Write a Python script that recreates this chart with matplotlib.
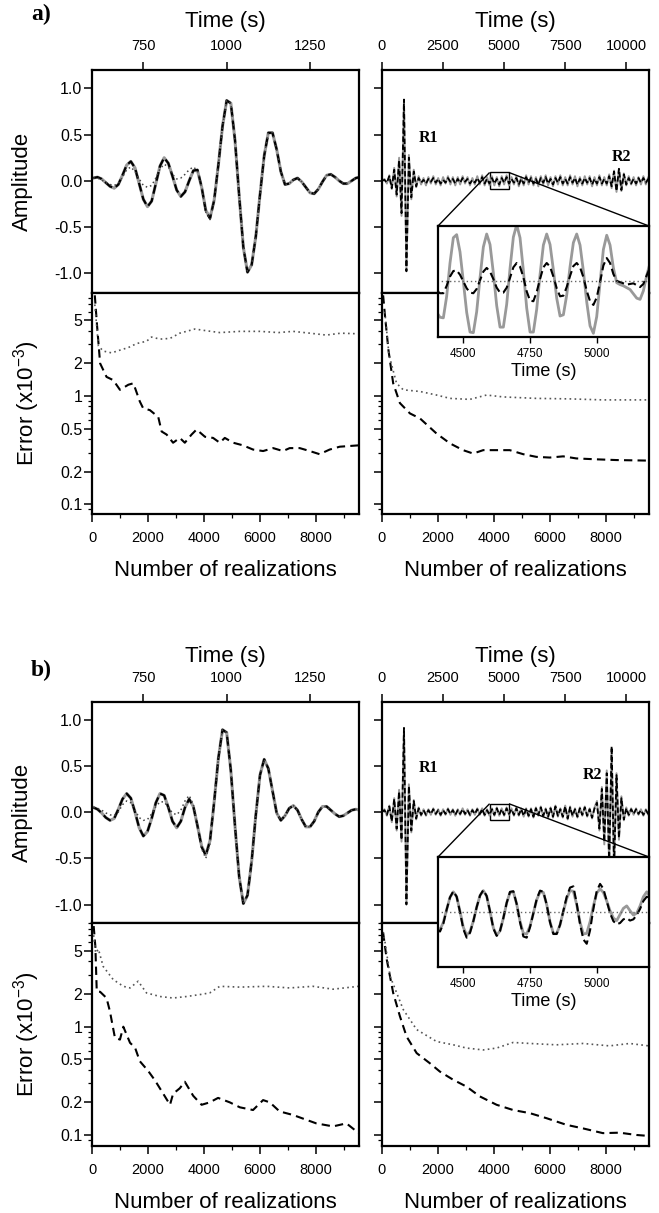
import matplotlib
matplotlib.use("Agg")
import matplotlib.pyplot as plt
import numpy as np
from matplotlib.ticker import FixedLocator, NullFormatter, FormatStrFormatter
from mpl_toolkits.axes_grid1.inset_locator import mark_inset

plt.rcParams['font.family'] = ['Liberation Sans', 'DejaVu Sans']
plt.rcParams['axes.unicode_minus'] = False

# ---------------- data ----------------
# close-up of R1 (left panels), sampled every 12.5 s from 600 to 1400 s
t_r1 = np.arange(600, 1400.1, 12.5)

ref_a = [0.03, 0.04, 0.02, -0.02, -0.06, -0.08, -0.04, 0.06, 0.17, 0.21,
         0.14, -0.03, -0.20, -0.28, -0.22, -0.03, 0.16, 0.25, 0.19, 0.05,
         -0.10, -0.17, -0.12, 0.00, 0.11, 0.11, -0.07, -0.32, -0.40, -0.21,
         0.17, 0.59, 0.87, 0.84, 0.44, -0.16, -0.72, -0.99, -0.91, -0.60,
         -0.15, 0.27, 0.52, 0.52, 0.34, 0.10, -0.04, -0.03, 0.01, 0.03,
         -0.01, -0.07, -0.13, -0.14, -0.09, -0.01, 0.06, 0.07, 0.04, 0.00,
         -0.03, -0.03, 0.00, 0.03, 0.04]
dash_a = [0.03, 0.04, 0.02, -0.02, -0.06, -0.08, -0.04, 0.06, 0.17, 0.21,
          0.14, -0.03, -0.20, -0.28, -0.22, -0.03, 0.16, 0.25, 0.19, 0.05,
          -0.10, -0.17, -0.12, 0.00, 0.11, 0.12, -0.07, -0.33, -0.41, -0.21,
          0.17, 0.59, 0.87, 0.84, 0.44, -0.16, -0.72, -0.99, -0.91, -0.60,
          -0.15, 0.27, 0.52, 0.52, 0.34, 0.10, -0.04, -0.03, 0.01, 0.03,
          -0.01, -0.07, -0.13, -0.14, -0.09, -0.01, 0.06, 0.07, 0.04, 0.00,
          -0.03, -0.03, 0.00, 0.03, 0.04]
dot_a = [0.03, 0.03, 0.01, -0.02, -0.04, -0.05, -0.03, 0.04, 0.12, 0.15,
         0.10, 0.02, -0.05, -0.07, -0.05, 0.03, 0.13, 0.18, 0.15, 0.07,
         0.02, 0.03, 0.07, 0.12, 0.15, 0.11, -0.08, -0.34, -0.42, -0.22,
         0.17, 0.59, 0.87, 0.84, 0.44, -0.16, -0.72, -0.99, -0.91, -0.60,
         -0.15, 0.27, 0.52, 0.52, 0.34, 0.10, -0.04, -0.03, 0.01, 0.03,
         -0.01, -0.07, -0.13, -0.14, -0.09, -0.01, 0.06, 0.07, 0.04, 0.00,
         -0.03, -0.03, 0.00, 0.03, 0.04]

ref_b = [0.05, 0.03, -0.01, -0.06, -0.09, -0.07, 0.03, 0.14, 0.20, 0.15,
         0.00, -0.17, -0.26, -0.21, -0.07, 0.10, 0.20, 0.18, 0.05, -0.10,
         -0.17, -0.10, 0.05, 0.14, 0.06, -0.15, -0.37, -0.46, -0.31, 0.11,
         0.58, 0.89, 0.86, 0.45, -0.15, -0.70, -0.99, -0.90, -0.53, -0.03,
         0.40, 0.57, 0.47, 0.23, -0.01, -0.09, -0.04, 0.04, 0.07, 0.02,
         -0.08, -0.16, -0.16, -0.10, 0.00, 0.06, 0.06, 0.02, -0.02, -0.05,
         -0.04, -0.01, 0.02, 0.03, 0.02]
dash_b = [0.05, 0.03, -0.01, -0.06, -0.09, -0.07, 0.03, 0.14, 0.20, 0.15,
          0.00, -0.17, -0.26, -0.21, -0.07, 0.10, 0.20, 0.18, 0.05, -0.10,
          -0.17, -0.10, 0.05, 0.14, 0.06, -0.15, -0.38, -0.47, -0.31, 0.11,
          0.58, 0.89, 0.86, 0.45, -0.15, -0.70, -0.99, -0.90, -0.53, -0.03,
          0.40, 0.57, 0.47, 0.23, -0.01, -0.09, -0.04, 0.04, 0.07, 0.02,
          -0.08, -0.16, -0.16, -0.10, 0.00, 0.06, 0.06, 0.02, -0.02, -0.05,
          -0.04, -0.01, 0.02, 0.03, 0.02]
dot_b = [0.05, 0.04, 0.02, -0.01, -0.03, -0.04, 0.00, 0.08, 0.12, 0.10,
         0.02, -0.06, -0.09, -0.08, -0.02, 0.06, 0.11, 0.11, 0.05, -0.01,
         -0.03, 0.02, 0.12, 0.18, 0.08, -0.15, -0.40, -0.50, -0.34, 0.11,
         0.58, 0.89, 0.86, 0.45, -0.15, -0.70, -0.99, -0.90, -0.53, -0.03,
         0.40, 0.57, 0.47, 0.23, -0.01, -0.09, -0.04, 0.04, 0.07, 0.02,
         -0.08, -0.16, -0.16, -0.10, 0.00, 0.06, 0.06, 0.02, -0.02, -0.05,
         -0.04, -0.01, 0.02, 0.03, 0.02]

# full record (right panels), one value every 100 s from 0 to 11000 s
t_full = np.arange(0, 11001, 100)

full_a_ref = [0.00, 0.02, -0.03, 0.06, -0.09, 0.14, -0.17, 0.25, -0.38, 0.86,
              -0.97, 0.28, -0.20, 0.12, -0.07, 0.05, -0.04, 0.03, -0.05, 0.04,
              -0.03, 0.05, -0.04, 0.03, -0.05, 0.04, -0.03, 0.05, -0.04, 0.04,
              -0.05, 0.04, -0.04, 0.05, -0.03, 0.04, -0.05, 0.03, -0.04, 0.05,
              -0.04, 0.06, -0.05, 0.04, -0.05, 0.05, -0.05, 0.04, -0.06, 0.05,
              -0.04, 0.06, -0.05, 0.04, -0.04, 0.05, -0.06, 0.04, -0.05, 0.06,
              -0.04, 0.05, -0.05, 0.04, -0.06, 0.05, -0.04, 0.06, -0.05, 0.04,
              -0.06, 0.05, -0.04, 0.06, -0.05, 0.04, -0.05, 0.06, -0.04, 0.05,
              -0.06, 0.04, -0.05, 0.05, -0.04, 0.05, -0.06, 0.04, -0.05, 0.06,
              -0.05, 0.04, -0.05, 0.07, -0.08, 0.11, -0.12, 0.13, -0.11, 0.08,
              -0.05, 0.05, -0.04, 0.04, -0.05, 0.04, -0.04, 0.05, -0.04, 0.04, -0.02]
full_a_dash = [0.00, 0.01, -0.02, 0.05, -0.08, 0.12, -0.15, 0.22, -0.35, 0.88,
               -0.98, 0.25, -0.18, 0.10, -0.06, 0.03, -0.02, 0.01, -0.03, 0.02,
               -0.01, 0.03, -0.02, 0.02, -0.03, 0.01, -0.02, 0.03, -0.01, 0.02,
               -0.03, 0.02, -0.02, 0.03, -0.01, 0.02, -0.03, 0.01, -0.02, 0.03,
               -0.02, 0.04, -0.03, 0.02, -0.03, 0.03, -0.03, 0.02, -0.04, 0.03,
               -0.02, 0.04, -0.03, 0.02, -0.02, 0.03, -0.04, 0.02, -0.03, 0.04,
               -0.02, 0.03, -0.03, 0.02, -0.04, 0.03, -0.02, 0.04, -0.03, 0.02,
               -0.04, 0.03, -0.02, 0.04, -0.03, 0.02, -0.03, 0.04, -0.02, 0.03,
               -0.04, 0.02, -0.03, 0.03, -0.02, 0.03, -0.04, 0.02, -0.03, 0.04,
               -0.03, 0.02, -0.03, 0.05, -0.06, 0.10, -0.11, 0.13, -0.10, 0.07,
               -0.04, 0.03, -0.03, 0.02, -0.03, 0.03, -0.02, 0.03, -0.02, 0.02, -0.01]

full_b_ref = [0.00, 0.03, -0.04, 0.07, -0.11, 0.15, -0.20, 0.24, -0.32, 0.90,
              -0.99, 0.30, -0.22, 0.13, -0.08, 0.05, -0.04, 0.03, -0.04, 0.03,
              -0.03, 0.04, -0.03, 0.03, -0.04, 0.03, -0.03, 0.04, -0.03, 0.03,
              -0.04, 0.03, -0.03, 0.04, -0.03, 0.03, -0.04, 0.03, -0.03, 0.04,
              -0.03, 0.04, -0.04, 0.03, -0.04, 0.04, -0.04, 0.05, -0.04, 0.04,
              -0.04, 0.05, -0.03, 0.04, -0.04, 0.05, -0.04, 0.04, -0.05, 0.04,
              -0.05, 0.04, -0.06, 0.05, -0.04, 0.06, -0.05, 0.04, -0.06, 0.05,
              -0.06, 0.07, -0.05, 0.04, -0.06, 0.07, -0.08, 0.06, -0.05, 0.04,
              -0.06, 0.05, -0.04, 0.06, -0.05, 0.04, -0.07, 0.05, 0.12, -0.20,
              0.27, -0.35, 0.45, -0.58, 0.68, -0.62, 0.42, -0.30, 0.17, -0.09,
              0.05, -0.04, 0.04, -0.03, 0.04, -0.03, 0.03, -0.04, 0.03, -0.03, 0.01]
full_b_dash = [0.00, 0.02, -0.03, 0.06, -0.10, 0.14, -0.18, 0.22, -0.30, 0.91,
               -1.00, 0.28, -0.20, 0.12, -0.07, 0.04, -0.03, 0.02, -0.03, 0.02,
               -0.02, 0.03, -0.02, 0.02, -0.03, 0.02, -0.02, 0.03, -0.02, 0.02,
               -0.03, 0.02, -0.02, 0.03, -0.02, 0.02, -0.03, 0.02, -0.02, 0.03,
               -0.02, 0.03, -0.03, 0.02, -0.03, 0.03, -0.03, 0.04, -0.03, 0.03,
               -0.03, 0.04, -0.02, 0.03, -0.03, 0.04, -0.03, 0.03, -0.04, 0.03,
               -0.04, 0.03, -0.05, 0.04, -0.03, 0.05, -0.04, 0.03, -0.05, 0.04,
               -0.05, 0.06, -0.04, 0.03, -0.05, 0.06, -0.07, 0.05, -0.04, 0.03,
               -0.05, 0.04, -0.03, 0.05, -0.04, 0.03, -0.06, 0.04, 0.10, -0.18,
               0.25, -0.32, 0.42, -0.55, 0.71, -0.60, 0.40, -0.28, 0.15, -0.08,
               0.04, -0.03, 0.03, -0.02, 0.03, -0.02, 0.02, -0.03, 0.02, -0.02, 0.01]

# insets, 4400-5200 s every 12.5 s
t_ins = np.arange(4400, 5200.1, 12.5)
ins_a_ref = [-0.050, -0.058, -0.059, -0.024, 0.030, 0.071, 0.076, 0.048, 0.000, -0.050,
             -0.082, -0.083, -0.049, 0.006, 0.056, 0.077, 0.060, 0.014, -0.039, -0.074,
             -0.074, -0.037, 0.021, 0.072, 0.092, 0.071, 0.018, -0.043, -0.082, -0.082,
             -0.045, 0.011, 0.059, 0.077, 0.060, 0.019, -0.027, -0.056, -0.054, -0.022,
             0.024, 0.063, 0.077, 0.059, 0.017, -0.033, -0.072, -0.084, -0.057, -0.002,
             0.052, 0.075, 0.059, 0.022, -0.002, -0.005, -0.007, -0.010, -0.013, -0.020,
             -0.027, -0.029, -0.015, 0.010, 0.030]
ins_a_dash = [-0.015, -0.019, -0.019, -0.007, 0.008, 0.017, 0.018, 0.011, 0.000, -0.011,
              -0.018, -0.019, -0.012, 0.002, 0.016, 0.022, 0.016, 0.004, -0.010, -0.018,
              -0.018, -0.010, 0.006, 0.023, 0.030, 0.024, 0.007, -0.016, -0.031, -0.032,
              -0.017, 0.004, 0.023, 0.030, 0.024, 0.008, -0.011, -0.024, -0.023, -0.009,
              0.009, 0.025, 0.030, 0.023, 0.007, -0.015, -0.032, -0.038, -0.026, -0.001,
              0.026, 0.038, 0.030, 0.012, 0.001, -0.001, -0.003, -0.005, -0.004, -0.003,
              -0.006, -0.009, -0.004, 0.010, 0.023]
ins_b_ref = [-0.025, -0.029, -0.017, 0.004, 0.024, 0.033, 0.025, 0.001, -0.025, -0.038,
             -0.032, -0.015, 0.008, 0.027, 0.035, 0.026, 0.001, -0.026, -0.038, -0.031,
             -0.010, 0.015, 0.032, 0.033, 0.013, -0.015, -0.035, -0.036, -0.023, -0.002,
             0.020, 0.033, 0.032, 0.012, -0.016, -0.035, -0.035, -0.021, 0.001, 0.022,
             0.035, 0.034, 0.012, -0.017, -0.036, -0.035, -0.016, 0.010, 0.031, 0.038,
             0.032, 0.018, 0.002, -0.010, -0.014, -0.004, 0.006, 0.010, 0.002, -0.005,
             -0.002, 0.010, 0.025, 0.033, 0.025]
ins_b_dash = [-0.028, -0.032, -0.019, 0.004, 0.024, 0.034, 0.025, 0.000, -0.028, -0.042,
              -0.034, -0.015, 0.008, 0.027, 0.036, 0.026, 0.001, -0.027, -0.039, -0.031,
              -0.010, 0.015, 0.033, 0.034, 0.013, -0.017, -0.040, -0.042, -0.025, -0.002,
              0.021, 0.035, 0.033, 0.012, -0.017, -0.036, -0.036, -0.021, 0.002, 0.025,
              0.040, 0.042, 0.014, -0.020, -0.045, -0.052, -0.030, 0.005, 0.034, 0.046,
              0.038, 0.018, -0.002, -0.015, -0.020, -0.018, -0.012, -0.010, -0.014, -0.012,
              -0.005, 0.005, 0.018, 0.025, 0.022]
t_ins_dot = [4400, 5200]
ins_a_dot = [0.001, 0.001]
ins_b_dot = [0.000, 0.000]

# misfit vs number of realizations (x1e-3)
ea_l_dash_n = [100, 180, 290, 520, 760, 1000, 1300, 1480, 1710, 1830, 2070, 2370, 2490,
               2670, 2900, 3140, 3320, 3560, 3740, 4040, 4330, 4570, 4750, 5050, 5400,
               5760, 6120, 6480, 6830, 7070, 7430, 7790, 8140, 8500, 8860, 9540]
ea_l_dash = [8.5, 4.5, 2.0, 1.5, 1.4, 1.14, 1.27, 1.31, 0.89, 0.77, 0.74, 0.64, 0.47,
             0.44, 0.37, 0.41, 0.37, 0.44, 0.49, 0.42, 0.41, 0.37, 0.41, 0.37, 0.35,
             0.32, 0.31, 0.33, 0.31, 0.33, 0.33, 0.31, 0.29, 0.32, 0.34, 0.35]
ea_l_dot_n = [100, 230, 400, 700, 1000, 1300, 1600, 1950, 2130, 2430, 2790, 3140,
              3680, 4100, 4570, 5290, 6000, 6670, 7190, 7790, 8380, 8900, 9540]
ea_l_dot = [7.0, 2.9, 2.6, 2.5, 2.65, 2.8, 3.05, 3.2, 3.5, 3.35, 3.4, 3.8,
            4.15, 4.0, 3.85, 3.95, 3.95, 3.85, 3.95, 3.8, 3.65, 3.8, 3.75]
ea_r_dash_n = [40, 110, 230, 400, 640, 1000, 1360, 1950, 2430, 2900, 3260, 3620, 4100,
               4570, 5050, 5520, 6000, 6480, 6950, 7670, 8380, 9540]
ea_r_dash = [8.5, 5.4, 2.66, 1.31, 0.86, 0.69, 0.62, 0.45, 0.365, 0.316, 0.294, 0.316, 0.316,
             0.316, 0.29, 0.274, 0.27, 0.277, 0.265, 0.26, 0.256, 0.253]
ea_r_dot_n = [100, 250, 520, 760, 1360, 1950, 2430, 3140, 3740, 4330, 5520, 6710, 7900, 9540]
ea_r_dot = [6.0, 2.4, 1.31, 1.14, 1.10, 1.02, 0.95, 0.93, 1.02, 0.98, 0.95, 0.94, 0.92, 0.92]

eb_l_dash_n = [60, 120, 170, 290, 520, 640, 820, 1000, 1120, 1360, 1540, 1710, 2010, 2250,
               2550, 2790, 2900, 3140, 3320, 3620, 3920, 4210, 4510, 4930, 5290, 5760,
               6120, 6360, 6710, 7190, 7670, 8020, 8620, 9100, 9540]
eb_l_dash = [8.5, 5.5, 2.12, 2.1, 1.84, 1.39, 0.79, 0.76, 1.0, 0.71, 0.64, 0.48, 0.39, 0.32,
             0.24, 0.19, 0.24, 0.27, 0.31, 0.23, 0.19, 0.20, 0.22, 0.20, 0.18, 0.17,
             0.21, 0.20, 0.165, 0.153, 0.138, 0.128, 0.12, 0.128, 0.104]
eb_l_dot_n = [60, 130, 230, 400, 760, 1120, 1360, 1650, 1950, 2430, 2900, 3380, 3860,
              4210, 4570, 5290, 6240, 7070, 7900, 8620, 9540]
eb_l_dot = [7.0, 4.8, 5.2, 3.6, 2.72, 2.36, 2.28, 2.63, 2.05, 1.9, 1.84, 1.9, 1.98,
            2.05, 2.36, 2.32, 2.36, 2.28, 2.36, 2.22, 2.36]
eb_r_dash_n = [40, 170, 400, 640, 880, 1240, 1710, 2070, 2550, 3020, 3500, 4100, 4690,
               5290, 5880, 6600, 7190, 7900, 8500, 9100, 9540]
eb_r_dash = [7.4, 4.17, 2.05, 1.25, 0.81, 0.57, 0.46, 0.385, 0.323, 0.28, 0.227, 0.19, 0.17,
             0.159, 0.143, 0.124, 0.115, 0.104, 0.105, 0.10, 0.098]
eb_r_dot_n = [40, 110, 290, 760, 1240, 1950, 2550, 3020, 3620, 4100, 4690, 5290, 6240,
              7190, 8140, 8860, 9540]
eb_r_dot = [7.5, 6.0, 2.92, 1.44, 0.94, 0.73, 0.68, 0.635, 0.61, 0.635, 0.715, 0.70, 0.68,
            0.70, 0.665, 0.70, 0.665]

err_ticks = [0.1, 0.2, 0.5, 1, 2, 5]
err_ticklabels = ['0.1', '0.2', '0.5', '1', '2', '5']
err_minor = [0.09, 0.3, 0.4, 0.6, 0.7, 0.8, 0.9, 3, 4, 6, 7, 8, 9]

# ---------------- figure ----------------
W, H = 659, 1213
fig = plt.figure(figsize=(W / 100, H / 100), dpi=100)

GRAY = '#999999'


def px_axes(x0, y0, x1, y1):
    # pixel box measured from the top-left corner of the picture
    return fig.add_axes([x0 / W, 1 - y1 / H, (x1 - x0) / W, (y1 - y0) / H])


def style(ax):
    for s in ax.spines.values():
        s.set_linewidth(1.6)
    ax.tick_params(which='major', direction='out', length=5.5, width=1.1)
    ax.tick_params(which='minor', direction='out', length=2.8, width=0.9)
    ax.tick_params(axis='x', labelsize=10.5, pad=7)
    ax.tick_params(axis='y', labelsize=11.5, pad=1.5)


def draw_amp(ax, left, amp_ylim):
    style(ax)
    ax.set_ylim(*amp_ylim)
    ax.xaxis.tick_top()
    ax.xaxis.set_label_position('top')
    ax.tick_params(bottom=False, right=False)
    ax.set_yticks([-1.0, -0.5, 0.0, 0.5, 1.0])
    ax.yaxis.set_major_formatter(FormatStrFormatter('%.1f'))
    if not left:
        ax.tick_params(axis='y', labelleft=False)
    ax.set_xlabel('Time (s)', fontsize=16)


def draw_err(ax, left, err_ylim):
    style(ax)
    ax.set_yscale('log')
    ax.set_ylim(*err_ylim)
    ax.set_xlim(0, 9550)
    ax.yaxis.set_major_locator(FixedLocator(err_ticks))
    ax.yaxis.set_minor_locator(FixedLocator(err_minor))
    ax.yaxis.set_minor_formatter(NullFormatter())
    if left:
        ax.set_yticklabels(err_ticklabels)
        ax.set_ylabel('Error (x10$^{\\mathregular{-3}}$)', fontsize=16)
    else:
        ax.tick_params(axis='y', which='both', labelleft=False)
    ax.set_xticks([0, 2000, 4000, 6000, 8000])
    ax.set_xticks([1000, 3000, 5000, 7000, 9000], minor=True)
    ax.tick_params(right=False, top=False)
    ax.set_xlabel('Number of realizations', fontsize=16)


def panel(y_top, y_mid, y_bot, ins_y0, ins_y1, amp_ylim, err_ylim,
          r1_ref, r1_dash, r1_dot, full_ref, full_dash, ins_ref, ins_dash, ins_dot,
          e_left, e_right, r_labels, letter, letter_y, top_lab_y, bot_lab_y):
    # left column: close-up of R1
    al = px_axes(92, y_top, 359, y_mid)
    el = px_axes(92, y_mid, 359, y_bot)
    al.plot(t_r1, r1_ref, color=GRAY, lw=2.2)
    al.plot(t_r1, r1_dash, color='black', lw=1.6, dashes=(4, 2))
    al.plot(t_r1, r1_dot, color='#444444', lw=1.1, dashes=(1, 2))
    al.set_xlim(596, 1397)
    al.set_xticks([750, 1000, 1250])
    draw_amp(al, True, amp_ylim)
    al.yaxis.set_label_coords(-0.222, 0.5)
    al.set_ylabel('Amplitude', fontsize=16)
    al.xaxis.set_label_coords(0.5, top_lab_y)

    (dn, dv), (on, ov) = e_left
    el.plot(dn, dv, color='black', lw=1.5, dashes=(4, 2.5))
    el.plot(on, ov, color='#555555', lw=1.2, dashes=(1, 2))
    draw_err(el, True, err_ylim)
    el.yaxis.set_label_coords(-0.187, 0.5)
    el.xaxis.set_label_coords(0.5, bot_lab_y)

    # right column: whole record
    ar = px_axes(382, y_top, 649, y_mid)
    er = px_axes(382, y_mid, 649, y_bot)
    ar.plot(t_full, full_ref, color=GRAY, lw=1.4)
    ar.plot(t_full, full_dash, color='black', lw=1.3, dashes=(3, 1.5))
    ar.set_xlim(0, 10930)
    ar.set_xticks([0, 2500, 5000, 7500, 10000])
    draw_amp(ar, False, amp_ylim)
    ar.xaxis.set_label_coords(0.5, top_lab_y)
    for txt, tx, ty in r_labels:
        ar.text(tx, ty, txt, family=['Liberation Serif', 'DejaVu Serif'],
                fontweight='bold', fontsize=11.5, ha='center', va='center')

    (dn, dv), (on, ov) = e_right
    er.plot(dn, dv, color='black', lw=1.5, dashes=(4, 2.5))
    er.plot(on, ov, color='#555555', lw=1.2, dashes=(1, 2))
    draw_err(er, False, err_ylim)
    er.xaxis.set_label_coords(0.5, bot_lab_y)

    # inset zoom of the coda
    ins = px_axes(438, ins_y0, 649, ins_y1)
    ins.plot(t_ins, ins_ref, color=GRAY, lw=2.0)
    ins.plot(t_ins, ins_dash, color='black', lw=1.5, dashes=(4, 2))
    ins.plot(t_ins_dot, ins_dot, color='#666666', lw=1.0, dashes=(1, 2))
    ins.set_xlim(4405, 5196)
    ins.set_ylim(-0.09, 0.09)
    for s in ins.spines.values():
        s.set_linewidth(1.6)
    ins.set_yticks([])
    ins.set_xticks([4500, 4750, 5000])
    ins.tick_params(axis='x', direction='out', length=4, width=1, labelsize=8.5, pad=4)
    ins.set_xlabel('Time (s)', fontsize=13, labelpad=2)
    mark_inset(ar, ins, loc1=2, loc2=1, fc='none', ec='black', lw=1.0)

    fig.text(31 / W, 1 - letter_y / H, letter, family=['Liberation Serif', 'DejaVu Serif'],
             fontweight='bold', fontsize=17, ha='left', va='center')


panel(70, 293, 514, 226, 337, (-1.215, 1.2), (0.0813, 8.93),
      ref_a, dash_a, dot_a, full_a_ref, full_a_dash, ins_a_ref, ins_a_dash, ins_a_dot,
      ((ea_l_dash_n, ea_l_dash), (ea_l_dot_n, ea_l_dot)),
      ((ea_r_dash_n, ea_r_dash), (ea_r_dot_n, ea_r_dot)),
      [('R1', 1885, 0.46), ('R2', 9795, 0.26)], 'a)', 14, 1.193, -0.208)

panel(702, 923, 1146, 857, 967, (-1.2, 1.19), (0.0791, 9.07),
      ref_b, dash_b, dot_b, full_b_ref, full_b_dash, ins_b_ref, ins_b_dash, ins_b_dot,
      ((eb_l_dash_n, eb_l_dash), (eb_l_dot_n, eb_l_dot)),
      ((eb_r_dash_n, eb_r_dash), (eb_r_dot_n, eb_r_dot)),
      [('R1', 1885, 0.48), ('R2', 8607, 0.40)], 'b)', 670, 1.181, -0.206)

plt.savefig('out.png', dpi=100)
